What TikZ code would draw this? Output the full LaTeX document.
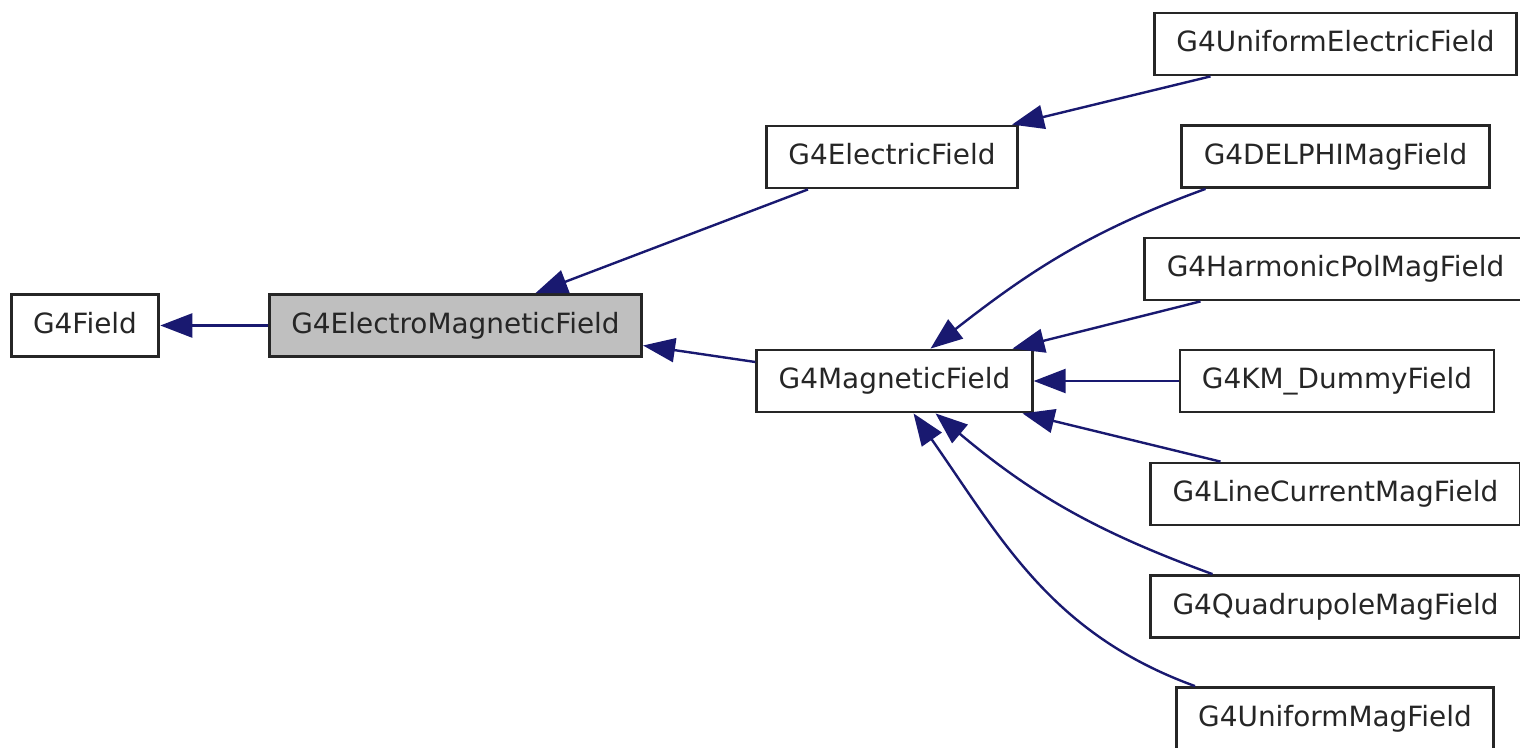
\documentclass[tikz,border=0pt]{standalone}
\usepackage{fontspec}
\setmainfont{DejaVu Sans}
\usetikzlibrary{arrows.meta,calc}
\definecolor{edgeblue}{HTML}{191970}
\definecolor{boxgray}{HTML}{BFBFBF}
\tikzset{cls/.style={draw=black!85,rectangle,line width=2.8pt,inner xsep=22pt,inner ysep=0pt,minimum height=62pt,text height=21pt,text depth=6pt,text=black!85,font=\fontsize{27.9}{33}\selectfont}}
\tikzset{inh/.style={draw=edgeblue,line width=2.4pt,-{Triangle[length=32pt,width=24pt,fill=edgeblue]}}}
\begin{document}
\begin{tikzpicture}[x=1pt,y=1pt]
\useasboundingbox(0,0)rectangle(1520,-747);
\begin{scope}[every node/.style={cls}]
\node(fld)at(85,-325.5){G4Field};\node(em)[fill=boxgray]at(455.5,-325.5){G4ElectroMagneticField};
\node(el)at(892,-157){G4ElectricField};\node(mag)at(894.5,-381){G4MagneticField};
\node(uel)at(1335.5,-44){G4UniformElectricField};\node(del)at(1335.5,-156.5){G4DELPHIMagField};
\node(har)at(1335.5,-269){G4HarmonicPolMagField};\node(km)at(1337,-381){G4KM\_DummyField};
\node(lc)at(1335.5,-494){G4LineCurrentMagField};\node(qp)at(1335.5,-606.5){G4QuadrupoleMagField};
\node(um)at(1335,-718.5){G4UniformMagField};
\end{scope}
\draw[inh](em.west)--(fld.east);
\draw[inh]($(el.south)+(-84,0)$)--($(em.north)+(80,0)$);
\draw[inh]($(mag.west)+(0,19)$)--($(em.east)+(0,-20)$);
\draw[inh]($(uel.south)+(-125,0)$)--($(el.north)+(120,0)$);
\draw[inh]($(del.south)+(-130,0)$)to[out=200,in=38]($(mag.north)+(36,0)$);
\draw[inh]($(har.south)+(-135,0)$)--($(mag.north)+(118,0)$);
\draw[inh](km.west)--(mag.east);
\draw[inh]($(lc.north)+(-115,0)$)--($(mag.south)+(128,0)$);
\draw[inh]($(qp.north)+(-123,0)$)to[out=160,in=-40]($(mag.south)+(41,0)$);
\draw[inh]($(um.north)+(-140,0)$)to[out=160,in=-55]($(mag.south)+(19,0)$);
\end{tikzpicture}
\end{document}
